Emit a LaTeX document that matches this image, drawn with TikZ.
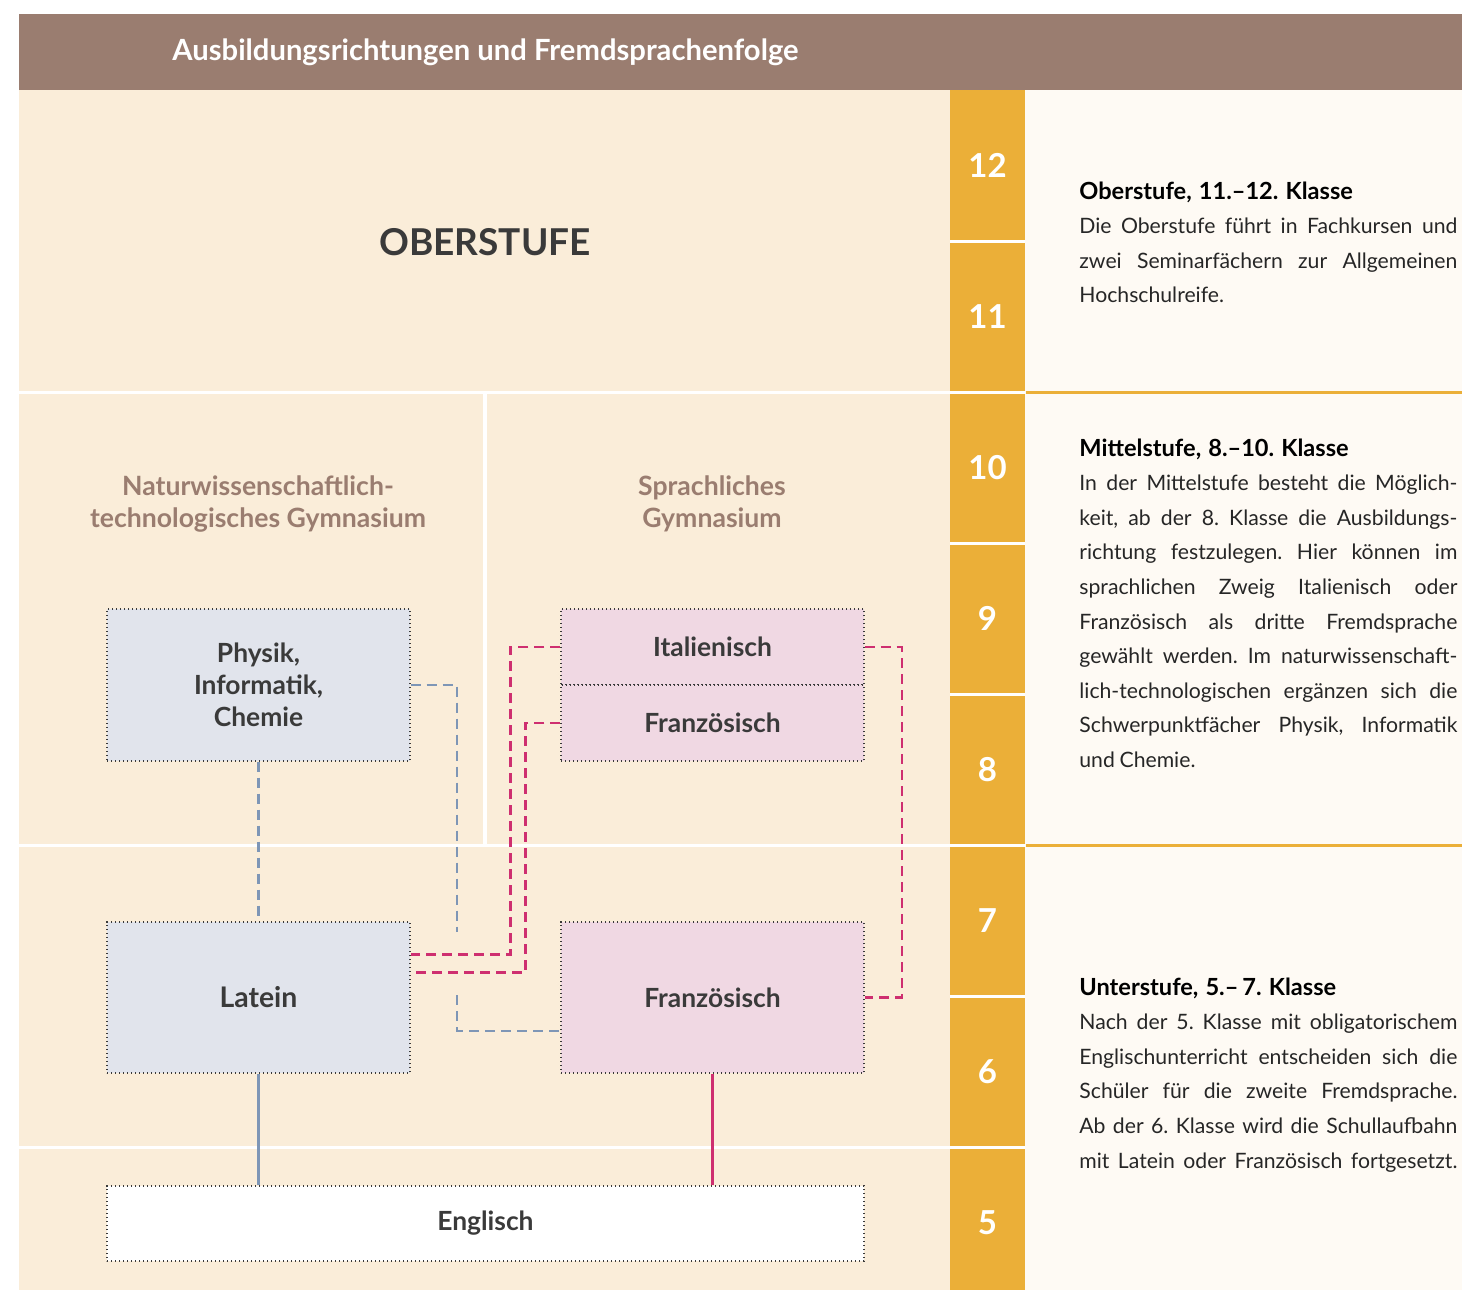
\documentclass[tikz,border=0pt]{standalone}
\usepackage{fontspec}
\setmainfont{Lato}
\usetikzlibrary{calc}
\definecolor{hdbrown}{RGB}{154,125,112}
\definecolor{cream}{RGB}{250,237,217}
\definecolor{gold}{RGB}{235,175,56}
\definecolor{paper}{RGB}{254,250,244}
\definecolor{natblue}{RGB}{225,228,236}
\definecolor{sprrose}{RGB}{240,216,227}
\definecolor{linblue}{RGB}{126,150,182}
\definecolor{linrose}{RGB}{206,47,112}
\definecolor{ink}{RGB}{58,58,58}
\newcommand{\zeile}[1]{\hbox to 189pt{\frenchspacing\spaceskip=0.22em plus 1fil minus 0.05em\relax #1}}
\newcommand{\satz}[1]{\hbox{\frenchspacing\spaceskip=0.22em\relax #1}}
\newcommand{\kopf}[1]{\hbox{\color{black}\fontsize{11.8}{17.3}\selectfont\bfseries\frenchspacing #1}}

\begin{document}
\begin{tikzpicture}[x=0.5pt, y=-0.5pt,
  fach/.style={draw=ink, line width=0.6pt, dash pattern=on 0.6pt off 1.4pt, text=ink, font=\fontsize{13.2}{16}\selectfont\bfseries, align=center, minimum width=151.5pt, inner sep=0pt},
  nat/.style={fach, fill=natblue},
  spr/.style={fach, fill=sprrose},
  grade/.style={text=white, font=\fontsize{16.5}{18}\selectfont\bfseries},
  bluedash/.style={linblue, line width=1.1pt, dash pattern=on 5pt off 3pt},
  rosedash/.style={linrose, line width=1.1pt, dash pattern=on 5pt off 3pt},
  info/.style={anchor=base west, inner sep=0pt, text width=189pt, font=\fontsize{10.6}{17.3}\selectfont, text=black!85}]
  \useasboundingbox (0,0) rectangle (1462,1290);
  \fill[white] (0,0) rectangle (1462,1290);
  \fill[hdbrown] (19,14) rectangle (1462,90);
  \fill[cream] (19,90) rectangle (950,1290);
  \fill[gold] (950,90) rectangle (1025,1290);
  \fill[paper] (1025,90) rectangle (1462,1290);
  \foreach \y in {241,543,694,996} {
    \draw[white, line width=1.5pt] (950,\y) -- (1025,\y);
  }
  \foreach \y in {392,845,1147} {
    \draw[white, line width=1.5pt] (19,\y) -- (1025,\y);
  }
  \foreach \y in {392,845} {
    \draw[gold, line width=1.5pt] (1026,\y) -- (1462,\y);
  }
  \draw[white, line width=2pt] (485,392) -- (485,845);

  \node[anchor=base west, inner sep=0pt, text=white, font=\fontsize{14.6}{16}\selectfont\bfseries] (titel) at (172,60) {Ausbildungsrichtungen und Fremdsprachenfolge};
  \node[text=ink, font=\fontsize{18.5}{20}\selectfont\bfseries] (ober) at (485,242) {OBERSTUFE};
  \node[align=center, text=hdbrown, font=\fontsize{13.3}{16}\selectfont\bfseries] (natgym) at (258,504) {Naturwissenschaftlich-\\technologisches Gymnasium};
  \node[align=center, text=hdbrown, font=\fontsize{13.3}{16}\selectfont\bfseries] (sprgym) at (712,504) {Sprachliches\\Gymnasium};

  \foreach \g [count=\i from 0] in {12,11,10,9,8,7,6,5} {
    \node[grade] (k\g) at (987.5,{165.5+151*\i}) {\g};
  }

  \node[nat, minimum height=76pt] (phys) at (258.5,685) {Physik,\\Informatik,\\Chemie};
  \node[spr, minimum height=38pt] (ital) at (712.5,647) {Italienisch};
  \node[spr, minimum height=38pt] (franzA) at (712.5,723) {Französisch};
  \node[nat, minimum height=75.5pt, font=\fontsize{14.2}{16}\selectfont\bfseries] (latein) at (258.5,997.5) {Latein};
  \node[spr, minimum height=75.5pt] (franzB) at (712.5,997.5) {Französisch};
  \node[fach, fill=white, minimum width=378.5pt, minimum height=37.5pt] (engl) at (485.5,1223.5) {Englisch};

  \coordinate (lueckeO) at (457,932);
  \coordinate (lueckeU) at (457,995);
  \draw[bluedash] (phys.south) -- (latein.north);
  \draw[bluedash] (phys.east) -| (lueckeO);
  \draw[bluedash] (lueckeU) |- ($(franzB.south west)+(0,-43)$);
  \draw[rosedash] (ital.west) -- ++(-50,0) |- ($(latein.north east)+(0,33)$);
  \draw[rosedash] (franzA.west) -- ++(-35,0) |- ($(latein.north east)+(0,51)$);
  \draw[rosedash] (ital.east) -- ++(37,0) |- (franzB.east);
  \draw[linblue, line width=1.1pt] (latein.south) -- (latein.south |- engl.north);
  \draw[linrose, line width=1.1pt] (franzB.south) -- (franzB.south |- engl.north);

  \node[info] (infoO) at (1079,199) {%
    \kopf{Oberstufe, 11.–12. Klasse}
    \zeile{Die Oberstufe führt in Fachkursen und}
    \zeile{zwei Seminarfächern zur Allgemeinen}
    \satz{Hochschulreife.}};
  \node[info] (infoM) at (1079,456) {%
    \kopf{Mittelstufe, 8.–10. Klasse}
    \zeile{In der Mittelstufe besteht die Möglich-}
    \zeile{keit, ab der 8. Klasse die Ausbildungs-}
    \zeile{richtung festzulegen. Hier können im}
    \zeile{sprachlichen Zweig Italienisch oder}
    \zeile{Französisch als dritte Fremdsprache}
    \zeile{gewählt werden. Im naturwissenschaft-}
    \zeile{lich-technologischen ergänzen sich die}
    \zeile{Schwerpunktfächer Physik, Informatik}
    \satz{und Chemie.}};
  \node[info] (infoU) at (1079,995) {%
    \kopf{Unterstufe, 5.–\,7. Klasse}
    \zeile{Nach der 5. Klasse mit obligatorischem}
    \zeile{Englischunterricht entscheiden sich die}
    \zeile{Schüler für die zweite Fremdsprache.}
    \zeile{Ab der 6. Klasse wird die Schullaufbahn}
    \zeile{mit Latein oder Französisch fortgesetzt.}};
\end{tikzpicture}
\end{document}
